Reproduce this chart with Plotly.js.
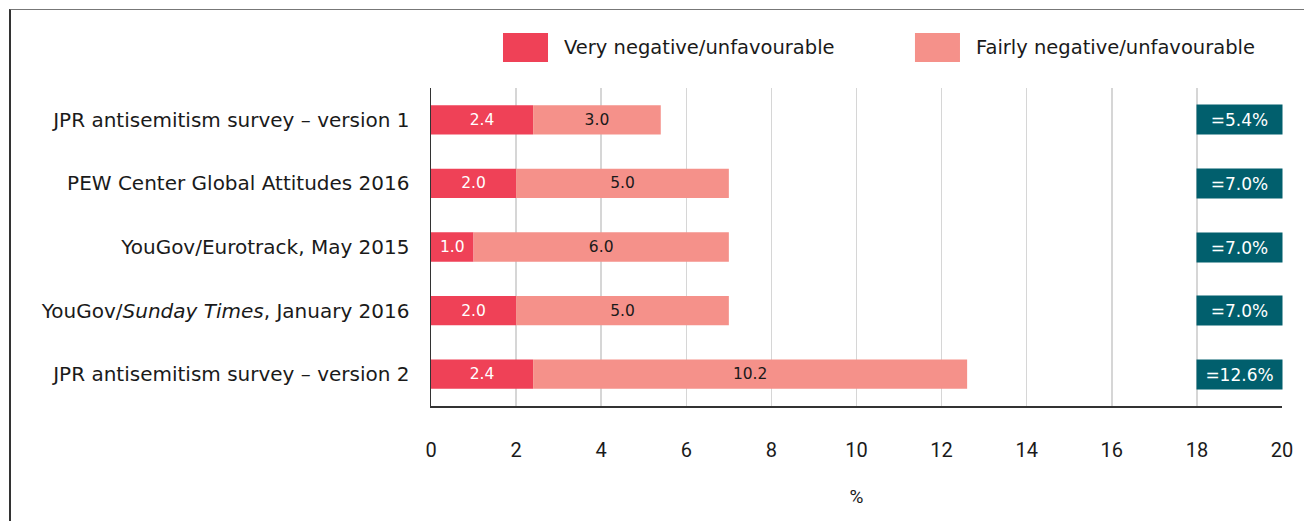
<!DOCTYPE html>
<html>
<head>
<meta charset="utf-8">
<script src="https://cdn.plot.ly/plotly-3.0.1.min.js"></script>
<style>
  html, body { margin: 0; padding: 0; background: #ffffff; }
  #chart { width: 1304px; height: 521px; }
  #frame { position: absolute; left: 9px; top: 9px; width: 1295px; height: 512px;
           border-top: 1.5px solid #777; border-left: 2px solid #333; pointer-events: none; }
</style>
</head>
<body>
<div id="chart"></div>
<div id="frame"></div>
<script>
// ---- data ----
const categories = [
  "JPR antisemitism survey – version 1",
  "PEW Center Global Attitudes 2016",
  "YouGov/Eurotrack, May 2015",
  "YouGov/Sunday Times, January 2016",
  "JPR antisemitism survey – version 2"
];
const categoryLabels = [
  "JPR antisemitism survey – version 1",
  "PEW Center Global Attitudes 2016",
  "YouGov/Eurotrack, May 2015",
  "YouGov/<i>Sunday Times</i>, January 2016",
  "JPR antisemitism survey – version 2"
];
const seriesNames = ["Very negative/unfavourable", "Fairly negative/unfavourable"];
const veryNegative = [2.4, 2.0, 1.0, 2.0, 2.4];
const fairlyNegative = [3.0, 5.0, 6.0, 5.0, 10.2];
const totals = [5.4, 7.0, 7.0, 7.0, 12.6];
const xTicks = [0, 2, 4, 6, 8, 10, 12, 14, 16, 18, 20];

// ---- styles ----
const colVery = "#ef4157";
const colFairly = "#f5918a";
const colTotal = "#015f6d";
const fontFam = "Roboto, 'Liberation Sans', sans-serif";
const wideFam = "'DejaVu Sans', 'Open Sans', sans-serif";

const traces = [
  {
    type: "bar", orientation: "h", name: seriesNames[0],
    y: categories, x: veryNegative, base: 0,
    marker: { color: colVery },
    text: veryNegative.map(v => v.toFixed(1)),
    textposition: "inside", insidetextanchor: "middle",
    textfont: { color: "#ffffff", size: 15.5, family: wideFam },
    width: 0.46, hoverinfo: "x+name", showlegend: false
  },
  {
    type: "bar", orientation: "h", name: seriesNames[1],
    y: categories, x: fairlyNegative, base: veryNegative,
    marker: { color: colFairly },
    text: fairlyNegative.map(v => v.toFixed(1)),
    textposition: "inside", insidetextanchor: "middle",
    textfont: { color: "#1a1a1a", size: 15.5, family: wideFam },
    width: 0.46, hoverinfo: "x+name", showlegend: false
  }
];

const annotations = totals.map((t, i) => ({
  xref: "x", yref: "y", x: 19, y: categories[i],
  text: "=" + t.toFixed(1) + "%", showarrow: false,
  bgcolor: colTotal, width: 85, height: 29, borderpad: 0,
  font: { color: "#ffffff", size: 17, family: wideFam }, align: "center"
}));

// legend (drawn manually with large swatches)
const legendItems = [
  { name: seriesNames[0], color: colVery, x0: 0.0846, x1: 0.1375, tx: 0.1539 },
  { name: seriesNames[1], color: colFairly, x0: 0.5687, x1: 0.6216, tx: 0.6380 }
];
const shapes = legendItems.map(l => ({
  type: "rect", xref: "paper", yref: "paper",
  x0: l.x0, x1: l.x1, y0: 1.082, y1: 1.173,
  fillcolor: l.color, line: { width: 0 }
}));
legendItems.forEach(l => annotations.push({
  xref: "paper", yref: "paper", x: l.tx, y: 1.1275,
  xanchor: "left", yanchor: "middle", showarrow: false,
  text: l.name, font: { size: 19.5, color: "#1a1a1a", family: wideFam }
}));

const layout = {
  width: 1304, height: 521,
  margin: { l: 431, r: 22, t: 88, b: 115 },
  paper_bgcolor: "#ffffff", plot_bgcolor: "#ffffff",
  barmode: "overlay",
  font: { family: fontFam, color: "#1a1a1a" },
  xaxis: {
    range: [0, 20], tickvals: xTicks, ticktext: xTicks.map(String),
    showgrid: true, gridcolor: "#d6d6d6", gridwidth: 1.5,
    zeroline: false, showline: true, linecolor: "#333333", linewidth: 1.5,
    ticks: "outside", ticklen: 25, tickcolor: "rgba(0,0,0,0)",
    tickfont: { size: 20, color: "#1a1a1a" },
    title: { text: "%", font: { size: 19, color: "#1a1a1a" }, standoff: 29 },
    fixedrange: true
  },
  yaxis: {
    type: "category", autorange: "reversed",
    tickvals: categories, ticktext: categoryLabels,
    showgrid: false, zeroline: false, showline: true,
    linecolor: "#333333", linewidth: 1.5,
    ticks: "outside", ticklen: 16, tickcolor: "rgba(0,0,0,0)",
    tickfont: { size: 20, color: "#1a1a1a", family: wideFam },
    fixedrange: true
  },
  shapes: shapes,
  annotations: annotations,
  showlegend: false
};

Plotly.newPlot("chart", traces, layout, { displayModeBar: false, staticPlot: true });
</script>
</body>
</html>
